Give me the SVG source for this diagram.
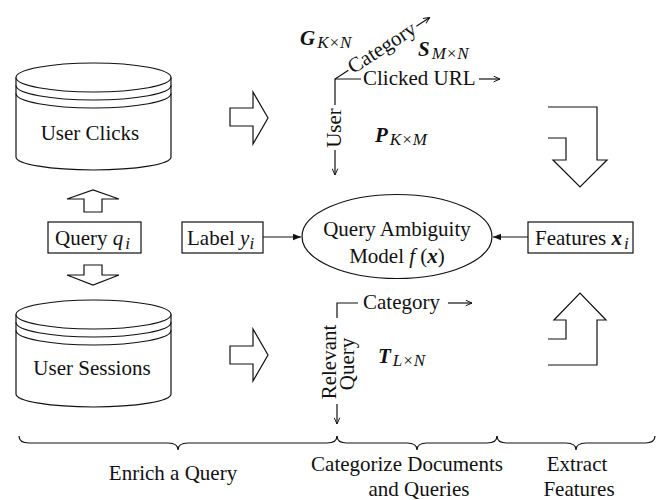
<svg xmlns="http://www.w3.org/2000/svg" width="662" height="500" viewBox="0 0 662 500">
<defs>
<style>
.s{fill:none;stroke:#111;stroke-width:1.2}
.f{fill:#fff;stroke:#111;stroke-width:1.2}
text{font-family:"Liberation Serif","Times New Roman",serif;font-size:21px;fill:#111}
.it{font-style:italic}
.bi{font-style:italic;font-weight:bold}
.sub{font-style:italic;font-size:17px}
</style>
<marker id="open" viewBox="0 0 10 10" refX="10" refY="5" markerWidth="7" markerHeight="7" markerUnits="userSpaceOnUse" orient="auto">
<path d="M1,1 L10,5 L1,9" fill="none" stroke="#111" stroke-width="1.4"/>
</marker>
<marker id="solid" viewBox="0 0 10 10" refX="10" refY="5" markerWidth="10" markerHeight="8" markerUnits="userSpaceOnUse" orient="auto">
<path d="M0,1 L10,5 L0,9 Z" fill="#111"/>
</marker>
</defs>
<rect width="662" height="500" fill="#fff"/>

<g id="user-clicks">
<path class="f" d="M16,77.5 V157 A77.5,13 0 0 0 171,157 V77.5"/>
<ellipse class="f" cx="93.5" cy="77.5" rx="77.5" ry="14.5"/>
<path class="s" d="M16,85.5 A77.5,14.5 0 0 0 171,85.5 M16,93.5 A77.5,14.5 0 0 0 171,93.5"/>
<text x="90" y="140" text-anchor="middle">User Clicks</text>
</g>

<g id="user-sessions">
<path class="f" d="M16,314.5 V394 A77.5,13 0 0 0 171,394 V314.5"/>
<ellipse class="f" cx="93.5" cy="314.5" rx="77.5" ry="14.5"/>
<path class="s" d="M16,322.5 A77.5,14.5 0 0 0 171,322.5 M16,330.5 A77.5,14.5 0 0 0 171,330.5"/>
<text x="92" y="375" text-anchor="middle">User Sessions</text>
</g>

<g id="query">
<rect class="f" x="48" y="222" width="93" height="31"/>
<text x="55" y="245">Query <tspan class="it">q</tspan><tspan class="sub" dx="2" dy="4">i</tspan></text>
</g>

<g id="label">
<rect class="f" x="182" y="222" width="81" height="31"/>
<text x="187" y="245">Label <tspan class="it">y</tspan><tspan class="sub" dy="4">i</tspan></text>
</g>

<g id="model">
<ellipse class="f" cx="397" cy="236.5" rx="95" ry="42"/>
<text x="397" y="236" text-anchor="middle">Query Ambiguity</text>
<text x="397" y="263" text-anchor="middle">Model <tspan class="it">f</tspan> (<tspan class="bi">x</tspan>)</text>
</g>

<g id="features">
<rect class="f" x="528" y="222" width="105" height="31"/>
<text x="535" y="245">Features <tspan class="bi">x</tspan><tspan class="sub" dx="2" dy="4">i</tspan></text>
</g>

<g id="click-matrices">
<text x="300" y="45"><tspan class="bi">G</tspan><tspan class="sub" dx="2" dy="3">K×N</tspan></text>
<text x="418" y="56"><tspan class="bi">S</tspan><tspan class="sub" dx="2" dy="3">M×N</tspan></text>
<text x="375" y="142"><tspan class="bi">P</tspan><tspan class="sub" dx="2" dy="3">K×M</tspan></text>
<path class="s" d="M335,105 V79 H361"/>
<text x="363" y="85">Clicked URL</text>
<path class="s" d="M479,79 H500" marker-end="url(#open)"/>
<g transform="translate(335,79) rotate(-33)">
<path class="s" d="M0,0 H16"/>
<text x="18" y="6">Category</text>
<path class="s" d="M97,0 H113" marker-end="url(#open)"/>
</g>
<text transform="translate(341,128) rotate(-90)" text-anchor="middle">User</text>
<path class="s" d="M335,150 V175" marker-end="url(#open)"/>
</g>

<g id="session-matrices">
<text x="378" y="363"><tspan class="bi">T</tspan><tspan class="sub" dx="2" dy="3">L×N</tspan></text>
<path class="s" d="M337,318 V303 H358"/>
<text x="363" y="309">Category</text>
<path class="s" d="M448,303 H472" marker-end="url(#open)"/>
<text transform="translate(336,362) rotate(-90)" text-anchor="middle">Relevant</text>
<text transform="translate(354,364) rotate(-90)" text-anchor="middle">Query</text>
<path class="s" d="M337,404 V424" marker-end="url(#open)"/>
</g>

<g id="block-arrows">
<path class="f" d="M230,108 H253 V92 L268,118 L253,144 V126 H230 Z"/>
<path class="f" d="M230,346 H253 V329 L268,355 L253,381 V364 H230 Z"/>
<path class="f" d="M84,212 V199 H67 L93,190 L119,199 H102 V212 Z"/>
<path class="f" d="M84,265 H102 V275 H119 L93,285 L67,275 H84 Z"/>
<path class="s" d="M548,107 H597 V160 H607 L580,187 L553,160 H566 V138 H548"/>
<path class="s" d="M548,365 H597 V320 H606 L580,293 L554,320 H566 V339 H548"/>
</g>

<g id="connectors">
<path class="s" d="M263,237 H301" marker-end="url(#solid)"/>
<path class="s" d="M528,237 H493" marker-end="url(#solid)"/>
</g>

<g id="stages">
<path class="s" d="M19,436 Q19,443 29,443 H168 Q178,443 178,450 Q178,443 188,443 H327 Q337,443 337,436"/>
<path class="s" d="M337,436 Q337,443 347,443 H407 Q417,443 417,450 Q417,443 427,443 H487 Q497,443 497,436"/>
<path class="s" d="M497,436 Q497,443 507,443 H566 Q576,443 576,450 Q576,443 586,443 H645 Q655,443 655,436"/>
<text x="173" y="480" text-anchor="middle">Enrich a Query</text>
<text x="407" y="471" text-anchor="middle">Categorize Documents</text>
<text x="419" y="496" text-anchor="middle">and Queries</text>
<text x="577" y="471" text-anchor="middle">Extract</text>
<text x="579" y="496" text-anchor="middle">Features</text>
</g>
</svg>
